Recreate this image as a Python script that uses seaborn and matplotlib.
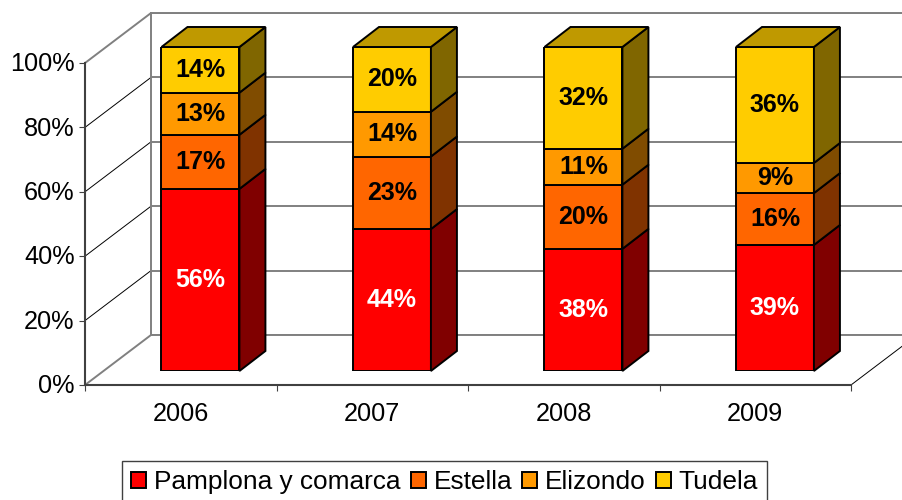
import matplotlib
matplotlib.use('Agg')
import matplotlib.pyplot as plt
from matplotlib.lines import Line2D
from matplotlib.patches import Polygon
from matplotlib.transforms import IdentityTransform, ScaledTranslation
import numpy as np
import seaborn as sns

years = ['2006', '2007', '2008', '2009']
pamplona = [56.2, 43.8, 37.7, 38.9]
estella = [16.7, 22.4, 19.8, 16.0]
elizondo = [13.0, 13.8, 11.1, 9.3]
tudela = [14.1, 20.0, 31.4, 35.8]

labels_pamplona = ['56%', '44%', '38%', '39%']
labels_estella = ['17%', '23%', '20%', '16%']
labels_elizondo = ['13%', '14%', '11%', '9%']
labels_tudela = ['14%', '20%', '32%', '36%']

names = ['Pamplona y comarca', 'Estella', 'Elizondo', 'Tudela']
colores = ['#FF0000', '#FF6600', '#FF9900', '#FFCC00']
laterales = ['#800000', '#803300', '#804C00', '#806600']
tapa = '#BF9900'
color_texto = ['white', 'black', 'black', 'black']
ticks_y = [0, 20, 40, 60, 80, 100]

W, H = 902, 500


def caja(x, y_abajo, ancho, alto):
    # posicion de un eje dada en pixeles de la imagen
    return [x / W, (H - y_abajo) / H, ancho / W, alto / H]


sns.set_theme(style='white')
plt.rcParams['font.family'] = ['Liberation Sans', 'DejaVu Sans']

fig = plt.figure(figsize=(W / 100, H / 100), dpi=100, facecolor='white')

# Pared del fondo con las lineas de division
ax_fondo = fig.add_axes(caja(151, 335, 766, 322), zorder=1)
ax_fondo.set_xlim(0, 1)
ax_fondo.set_ylim(0, 100)
ax_fondo.set_xticks([])
ax_fondo.set_yticks(ticks_y)
ax_fondo.tick_params(left=False, labelleft=False)
ax_fondo.grid(axis='y', color='#808080', linewidth=1.4)
for lado in ['left', 'top', 'bottom']:
    ax_fondo.spines[lado].set_color('#808080')
    ax_fondo.spines[lado].set_linewidth(1.4)
ax_fondo.spines['right'].set_visible(False)

# Plano frontal con los ejes
ax = fig.add_axes(caja(85, 385, 766, 322), zorder=2)
ax.patch.set_alpha(0)
ax.set_xlim(-0.5, 3.5)
ax.set_ylim(0, 100)
ax.set_yticks(ticks_y)
ax.set_yticklabels([f'{t}%' for t in ticks_y], fontsize=18.2, color='black')
ax.set_xticks(np.arange(len(years) + 1) - 0.5)
ax.set_xticklabels([])
ax.set_xticks(range(len(years)), labels=years, minor=True, fontsize=18.2, color='black')
ax.tick_params(axis='y', left=True, length=4.5, width=0.8, color='#404040', pad=3)
ax.tick_params(axis='x', which='major', bottom=True, length=4.5, width=0.8, color='#404040')
ax.tick_params(axis='x', which='minor', bottom=False, length=0, pad=12.5)
subir = ScaledTranslation(0, 1 / 72, fig.dpi_scale_trans)
for etiqueta in ax.get_yticklabels():
    etiqueta.set_transform(etiqueta.get_transform() + subir)
sns.despine(ax=ax)
ax.spines['left'].set_color('#404040')
ax.spines['bottom'].set_color('#404040')
ax.spines['left'].set_linewidth(1.5)
ax.spines['bottom'].set_linewidth(1.5)

# Barras apiladas
ax_barras = fig.add_axes(caja(104.7, 371, 766, 324), zorder=3)
ax_barras.patch.set_alpha(0)
series = [pamplona, estella, elizondo, tudela]
textos = [labels_pamplona, labels_estella, labels_elizondo, labels_tudela]
base = np.zeros(len(years))
for valores, nombre, color in zip(series, names, colores):
    sns.barplot(x=years, y=valores, bottom=base, color=color, saturation=1, width=0.407,
                edgecolor='black', linewidth=1.4, label=nombre, legend=False, ax=ax_barras)
    base = base + np.array(valores)
ax_barras.set_xlim(-0.5, 3.5)
ax_barras.set_ylim(0, 100)
ax_barras.axis('off')

fig.canvas.draw()


def a_pixeles(axes_, x, y):
    return axes_.transData.transform((x, y))


# Diagonales entre el plano frontal y la pared del fondo
for t in ticks_y:
    inicio = a_pixeles(ax, -0.5, t)
    fin = a_pixeles(ax_fondo, 0, t)
    gris = t in (0, 100)
    fig.add_artist(Line2D([inicio[0], fin[0]], [inicio[1], fin[1]], transform=IdentityTransform(),
                          color='#808080' if gris else 'black', linewidth=1.4 if gris else 0.7, zorder=1))
inicio = a_pixeles(ax, 3.5, 0)
fin = a_pixeles(ax_fondo, 1, 0)
fig.add_artist(Line2D([inicio[0], fin[0]], [inicio[1], fin[1]], transform=IdentityTransform(),
                      color='black', linewidth=0.7, zorder=1))

# Caras laterales y tapa de cada barra
dx, dy = 26, 20
for n, contenedor in enumerate(ax_barras.containers):
    for barra in contenedor:
        x0, y0 = a_pixeles(ax_barras, barra.get_x(), barra.get_y())
        x1, y1 = a_pixeles(ax_barras, barra.get_x() + barra.get_width(), barra.get_y() + barra.get_height())
        lateral = [(x1, y0), (x1 + dx, y0 + dy), (x1 + dx, y1 + dy), (x1, y1)]
        ax_barras.add_patch(Polygon(lateral, closed=True, transform=IdentityTransform(), clip_on=False,
                                    facecolor=laterales[n], edgecolor='black', linewidth=1.4))
        if n == len(series) - 1:
            arriba = [(x0, y1), (x0 + dx, y1 + dy), (x1 + dx, y1 + dy), (x1, y1)]
            ax_barras.add_patch(Polygon(arriba, closed=True, transform=IdentityTransform(), clip_on=False,
                                        facecolor=tapa, edgecolor='black', linewidth=1.4))
    ax_barras.bar_label(contenedor, labels=textos[n], label_type='center', fontsize=18,
                        fontweight='bold', color=color_texto[n])

manejadores = [contenedor[0] for contenedor in ax_barras.containers]
leyenda = fig.legend(manejadores, names, ncol=4, loc='upper left', bbox_to_anchor=(122 / W, (H - 461) / H),
                     fontsize=18.9, frameon=True, fancybox=False, framealpha=1, edgecolor='#404040',
                     handlelength=0.57, handleheight=0.57, handletextpad=0.3, columnspacing=0.38,
                     borderpad=0.36, borderaxespad=0, labelcolor='black')
leyenda.get_frame().set_linewidth(1.0)
leyenda.set_zorder(5)

fig.savefig('out.png', dpi=100)
